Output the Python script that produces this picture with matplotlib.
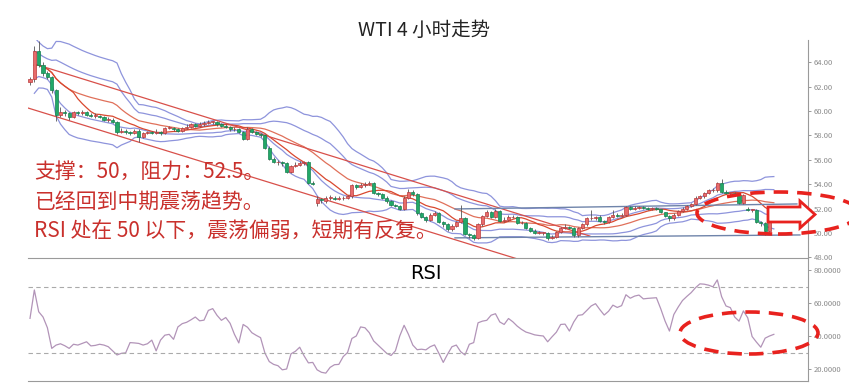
import numpy as np
import pandas as pd
import matplotlib
matplotlib.use("Agg")
import matplotlib.pyplot as plt
from matplotlib.patches import Ellipse, Polygon
from matplotlib.ticker import FormatStrFormatter

plt.rcParams['font.family'] = ['Noto Sans CJK SC', 'DejaVu Sans']

# 4小时K线 (open, close, high, low)
opens = [62.4, 62.6, 64.9, 63.8, 63.1, 62.8, 61.7, 59.7, 59.9, 59.8, 59.5, 59.9, 59.8, 59.9, 59.7, 59.6, 59.6, 59.5, 59.3, 59.3,
         59.1, 58.3, 58.4, 58.3, 58.2, 58.4, 57.9, 58.2, 58.3, 58.2, 58.3, 58.2, 58.6, 58.6, 58.5, 58.4, 58.6, 58.7, 58.9, 58.8,
         58.9, 59.0, 59.1, 59.1, 58.9, 58.8, 58.7, 58.5, 58.5, 58.3, 57.7, 58.5, 58.3, 58.1, 58.0, 57.0, 56.1, 55.8, 55.8, 55.7,
         55.0, 55.5, 55.6, 55.7, 55.8, 54.1, 52.5, 52.8, 52.6, 52.9, 52.9, 52.8, 52.85, 52.9, 53.0, 53.9, 53.8, 53.9, 54.0, 54.1,
         53.3, 53.2, 52.9, 52.6, 52.3, 52.2, 52.0, 52.9, 53.4, 53.2, 51.6, 51.3, 51.1, 51.5, 51.6, 50.9, 50.7, 50.3, 50.6, 50.9,
         51.2, 49.9, 49.8, 49.6, 50.7, 51.4, 51.7, 51.3, 51.8, 51.0, 51.1, 51.3, 51.3, 50.8, 50.8, 50.4, 50.2, 50.0, 50.0, 50.0,
         49.6, 49.7, 50.1, 50.4, 50.5, 50.4, 49.8, 50.4, 50.7, 51.2, 51.2, 51.3, 51.0, 50.9, 51.3, 51.5, 51.4, 51.5, 52.1, 52.0,
         52.05, 52.1, 52.05, 52.0, 52.05, 51.95, 51.7, 51.4, 51.2, 51.5, 51.8, 52.0, 52.2, 52.4, 52.9, 53.0, 53.3, 53.5, 53.5, 54.1,
         53.4, 53.3, 53.3, 53.1, 52.5, 52.0, 51.9, 51.9, 50.9, 50.8, 50.2, 51.2]
closes = [62.6, 64.9, 63.8, 63.1, 62.8, 61.7, 59.7, 59.9, 59.8, 59.5, 59.9, 59.8, 59.9, 59.7, 59.6, 59.6, 59.5, 59.3, 59.3, 59.1,
          58.3, 58.4, 58.3, 58.2, 58.4, 57.9, 58.2, 58.3, 58.2, 58.3, 58.2, 58.6, 58.6, 58.5, 58.4, 58.6, 58.7, 58.9, 58.8, 58.9,
          59.0, 59.1, 59.1, 58.9, 58.8, 58.7, 58.5, 58.5, 58.3, 57.7, 58.5, 58.3, 58.1, 58.0, 57.0, 56.1, 55.8, 55.8, 55.7, 55.0,
          55.5, 55.6, 55.7, 55.8, 54.1, 54.0, 52.8, 52.7, 52.9, 52.9, 52.8, 52.85, 52.9, 53.0, 53.9, 53.8, 53.9, 54.0, 54.1, 53.3,
          53.2, 52.9, 52.6, 52.3, 52.2, 52.0, 52.9, 53.4, 53.2, 51.6, 51.3, 51.1, 51.5, 51.6, 50.9, 50.7, 50.3, 50.6, 50.9, 51.2,
          49.9, 49.8, 49.6, 50.7, 51.4, 51.7, 51.3, 51.8, 51.0, 51.1, 51.3, 51.3, 50.8, 50.8, 50.4, 50.2, 50.0, 50.0, 50.0, 49.6,
          49.7, 50.1, 50.4, 50.5, 50.4, 49.8, 50.4, 50.7, 51.2, 51.2, 51.3, 51.0, 50.9, 51.3, 51.5, 51.4, 51.5, 52.1, 52.0, 52.05,
          52.1, 52.05, 52.0, 52.05, 51.95, 51.7, 51.4, 51.2, 51.5, 51.8, 52.0, 52.2, 52.4, 52.9, 53.0, 53.3, 53.5, 53.5, 54.1, 53.4,
          53.3, 53.3, 53.1, 52.5, 53.1, 51.9, 51.9, 50.9, 50.8, 50.2, 51.2, 51.3]
highs = [62.8, 65.3, 65.7, 64.0, 63.3, 62.9, 61.8, 60.3, 60.1, 59.9, 60.0, 60.0, 60.1, 60.0, 59.8, 59.8, 59.7, 59.6, 59.5, 59.4,
         59.2, 58.6, 58.5, 58.4, 58.5, 58.5, 58.3, 58.4, 58.4, 58.5, 58.4, 58.7, 58.8, 58.7, 58.6, 58.7, 58.9, 59.0, 59.0, 59.1,
         59.2, 59.3, 59.2, 59.2, 59.0, 58.9, 58.8, 58.7, 58.6, 58.4, 58.7, 58.6, 58.4, 58.2, 58.1, 57.1, 56.2, 56.0, 55.9, 55.8,
         55.6, 55.8, 55.9, 55.9, 55.9, 54.3, 53.0, 52.9, 53.0, 53.1, 53.0, 53.0, 53.0, 53.1, 54.0, 54.0, 54.1, 54.2, 54.3, 54.2,
         53.4, 53.3, 53.0, 52.7, 52.4, 52.3, 53.0, 53.6, 53.5, 53.3, 51.7, 51.4, 51.6, 51.8, 51.7, 51.0, 50.8, 50.7, 51.0, 52.3,
         51.3, 50.0, 49.9, 50.8, 51.5, 51.9, 51.8, 52.0, 51.9, 51.3, 51.5, 51.5, 51.4, 51.0, 50.9, 50.5, 50.3, 50.2, 50.1, 50.1,
         49.8, 50.2, 50.5, 50.7, 50.6, 50.5, 50.5, 50.8, 51.3, 51.9, 51.4, 51.5, 51.1, 51.4, 51.9, 51.6, 51.6, 52.2, 52.2, 52.2,
         52.2, 52.2, 52.1, 52.15, 52.1, 52.0, 51.75, 51.5, 51.6, 51.9, 52.1, 52.3, 52.5, 53.0, 53.1, 53.4, 53.6, 53.7, 54.2, 54.4,
         53.5, 53.4, 53.4, 53.2, 53.2, 52.1, 52.0, 52.0, 51.0, 50.9, 51.3, 51.4]
lows = [62.1, 62.4, 63.6, 62.9, 62.6, 61.5, 59.2, 59.5, 59.6, 59.3, 59.4, 59.7, 59.7, 59.6, 59.5, 59.4, 59.4, 59.2, 59.1, 59.0,
        58.1, 58.2, 58.1, 58.0, 58.1, 57.5, 57.8, 58.1, 58.1, 58.1, 58.0, 58.1, 58.5, 58.4, 58.3, 58.3, 58.5, 58.6, 58.7, 58.7,
        58.8, 58.9, 58.9, 58.8, 58.7, 58.6, 58.4, 58.4, 58.2, 57.6, 57.6, 58.2, 58.0, 57.9, 56.9, 56.0, 55.7, 55.6, 55.5, 54.9,
        54.9, 55.4, 55.5, 55.6, 54.0, 53.9, 52.2, 52.5, 52.5, 52.7, 52.7, 52.7, 52.7, 52.8, 52.9, 53.6, 53.7, 53.8, 53.9, 53.2,
        53.0, 52.8, 52.5, 52.2, 52.1, 51.9, 51.9, 52.8, 53.0, 51.5, 51.2, 50.9, 51.0, 51.4, 50.8, 50.5, 50.2, 50.2, 50.5, 50.8,
        49.8, 49.6, 49.4, 49.5, 50.6, 51.3, 51.2, 51.2, 50.9, 50.9, 51.0, 51.2, 50.7, 50.7, 50.3, 50.1, 49.9, 49.9, 49.8, 49.4,
        49.5, 49.6, 50.0, 50.3, 50.3, 49.7, 49.7, 50.3, 50.6, 51.1, 51.1, 50.9, 50.7, 50.8, 51.2, 51.3, 51.3, 51.4, 51.9, 51.9,
        52.0, 51.95, 51.9, 51.9, 51.85, 51.6, 51.3, 51.0, 51.1, 51.4, 51.7, 51.9, 52.1, 52.3, 52.8, 52.9, 53.2, 53.4, 53.4, 53.3,
        53.2, 53.1, 53.0, 52.4, 52.4, 51.8, 51.7, 50.8, 50.6, 49.8, 50.1, 51.1]

# RSI(14)
rsi = [50.7, 67.9, 54.7, 51.5, 45.0, 32.5, 34.5, 35.3, 34.1, 32.5, 35.0, 34.5, 35.5, 36.5, 34.0, 34.3, 35.0, 34.5, 33.5, 31.0,
       28.5, 29.5, 29.8, 36.0, 35.8, 35.5, 34.5, 35.3, 37.5, 31.0, 37.5, 40.5, 41.0, 38.0, 45.5, 47.5, 48.3, 49.8, 51.5, 49.2,
       49.6, 55.5, 56.6, 52.5, 49.5, 51.2, 47.7, 41.0, 35.8, 47.0, 45.3, 42.0, 40.4, 39.0, 29.7, 24.5, 22.8, 22.0, 19.5, 20.0,
       29.2, 30.7, 33.2, 28.0, 23.7, 24.0, 19.5, 18.0, 17.5, 21.0, 22.6, 22.8, 27.5, 30.0, 38.5, 40.0, 45.5, 45.0, 42.0, 37.0,
       34.5, 32.0, 29.5, 28.2, 31.0, 40.0, 46.5, 41.0, 34.5, 31.7, 32.0, 31.6, 33.5, 34.6, 29.5, 24.0, 29.0, 33.5, 34.5, 30.5,
       28.5, 35.0, 36.0, 48.0, 49.0, 49.5, 52.6, 53.5, 48.5, 47.0, 50.6, 48.6, 46.0, 44.0, 42.4, 41.6, 40.7, 40.3, 40.0, 36.5,
       39.5, 42.3, 47.0, 47.2, 43.0, 48.5, 52.5, 52.9, 55.5, 58.2, 59.6, 56.0, 52.7, 55.0, 58.7, 57.3, 58.4, 65.0, 62.9, 64.2,
       64.8, 62.5, 62.8, 63.0, 63.2, 56.5, 49.0, 43.0, 53.0, 57.5, 61.5, 64.0, 66.3, 69.3, 71.6, 71.4, 70.8, 69.8, 74.0, 63.8,
       58.2, 57.2, 51.5, 49.0, 55.2, 51.0, 39.7, 36.3, 33.2, 38.7, 40.0, 41.0]

# 趋势线 / 区间线 (K线序号, 价格)
channel_top = [(1.8, 63.77), (128.7, 49.75)]
channel_bottom = [(-0.5, 60.25), (130.0, 45.9)]
range_top = [(97.7, 51.97), (176.3, 52.38)]
range_bottom = [(97.7, 49.6), (177.0, 49.84)]

price_ticks = [48, 50, 52, 54, 56, 58, 60, 62, 64]
rsi_ticks = [20, 40, 60, 80]
notes = ["支撑：50，阻力：52.5。", "已经回到中期震荡趋势。", "RSI 处在 50 以下，震荡偏弱，短期有反复。"]

W, H = 849, 387
fig = plt.figure(figsize=(W / 100, H / 100), dpi=100)
fig.patch.set_facecolor('white')


def fx(px):
    return px / W


def fy(py):
    return 1 - py / H


ax = fig.add_axes([fx(28), fy(258), fx(808) - fx(28), fy(40) - fy(258)])
ax2 = fig.add_axes([fx(28), fy(381), fx(808) - fx(28), fy(259) - fy(381)])

o = np.array(opens)
c = np.array(closes)
h = np.array(highs)
l = np.array(lows)
idx = np.arange(len(c))

# 布林带
s = pd.Series(c)
mid = s.rolling(20, min_periods=2).mean()
sd = s.rolling(20, min_periods=2).std(ddof=0)
ma10 = s.rolling(10, min_periods=2).mean()
band_col = '#8e94dc'
for k in (2, 1):
    ax.plot(idx, mid + k * sd, color=band_col, lw=0.9, zorder=2)
    ax.plot(idx, mid - k * sd, color=band_col, lw=0.9, zorder=2)
ax.plot(idx, mid, color='#e0705a', lw=0.9, zorder=2)
ax.plot(idx, ma10, color='#d9482f', lw=0.9, zorder=2)

# 趋势线
for line in (channel_top, channel_bottom):
    ax.plot([p[0] for p in line], [p[1] for p in line], color='#d8504a', lw=0.9, zorder=2)
for line in (range_top, range_bottom):
    ax.plot([p[0] for p in line], [p[1] for p in line], color='#6f84aa', lw=1.0, zorder=2)

# K线
up = c >= o
ax.vlines(idx, l, h, color='#555555', lw=0.6, zorder=3)
body = np.maximum(np.abs(c - o), 0.05)
ax.bar(idx[up], body[up], bottom=np.minimum(o, c)[up], width=0.72,
       color='#e86b6b', edgecolor='#b83a3a', linewidth=0.5, zorder=4)
ax.bar(idx[~up], body[~up], bottom=np.minimum(o, c)[~up], width=0.72,
       color='#22a868', edgecolor='#178050', linewidth=0.5, zorder=4)

xmin, xmax = (28 - 30) / 4.35, (808 - 30) / 4.35
ax.set_xlim(xmin, xmax)
ax.set_ylim(50 + (233 - 258) / 12.2, 50 + (233 - 40) / 12.2)
ax.yaxis.tick_right()
ax.set_yticks(price_ticks)
ax.yaxis.set_major_formatter(FormatStrFormatter('%.2f'))
ax.set_xticks([])
for a in (ax, ax2):
    a.spines['left'].set_visible(False)
    a.spines['top'].set_visible(False)
    a.spines['right'].set_color('#9a9a9a')
    a.spines['bottom'].set_color('#9a9a9a')
    a.tick_params(axis='y', colors='#8a8a8a', labelsize=5.5, length=2, width=0.6, pad=2)
    a.set_facecolor('none')

# RSI
ax2.plot(idx, rsi, color='#b294b8', lw=0.9)
ax2.axhline(70, color='#aaaaaa', lw=0.8, ls=(0, (4, 3)))
ax2.axhline(30, color='#aaaaaa', lw=0.8, ls=(0, (4, 3)))
ax2.set_xlim(xmin, xmax)
ax2.set_ylim(20 - (381 - 369) / 1.65, 20 + (369 - 259) / 1.65)
ax2.yaxis.tick_right()
ax2.set_yticks(rsi_ticks)
ax2.yaxis.set_major_formatter(FormatStrFormatter('%.4f'))
ax2.set_xticks([])
ax2.text(0.51, 0.88, 'RSI', transform=ax2.transAxes, ha='center', va='center',
         fontsize=14, family=['DejaVu Sans'], color='black')

fig.text(0.5, fy(30), 'WTI 4 小时走势', ha='center', va='center', fontsize=14, color='#222222')

for k, t in enumerate(notes):
    fig.text(fx(34), fy(172 + 29.5 * k), t, ha='left', va='center', fontsize=15, color='#c9302c', zorder=10)

# 红色虚线圈与箭头
red = '#e8221e'
fig.add_artist(Ellipse((fx(778), fy(213)), fx(162), 42 / H, transform=fig.transFigure,
                       fill=False, edgecolor=red, lw=2.6, ls=(0, (4, 2.5)), zorder=10))
fig.add_artist(Ellipse((fx(749), fy(333)), fx(138), 42 / H, transform=fig.transFigure,
                       fill=False, edgecolor=red, lw=2.6, ls=(0, (4, 2.5)), zorder=10))
arrow_px = [(768, 207), (800, 207), (800, 201), (815, 214.5), (800, 228), (800, 222), (768, 222)]
fig.add_artist(Polygon([(fx(x), fy(y)) for x, y in arrow_px], closed=True, transform=fig.transFigure,
                       facecolor='white', edgecolor=red, lw=2.0, zorder=11))

fig.savefig('out.png', dpi=100)
